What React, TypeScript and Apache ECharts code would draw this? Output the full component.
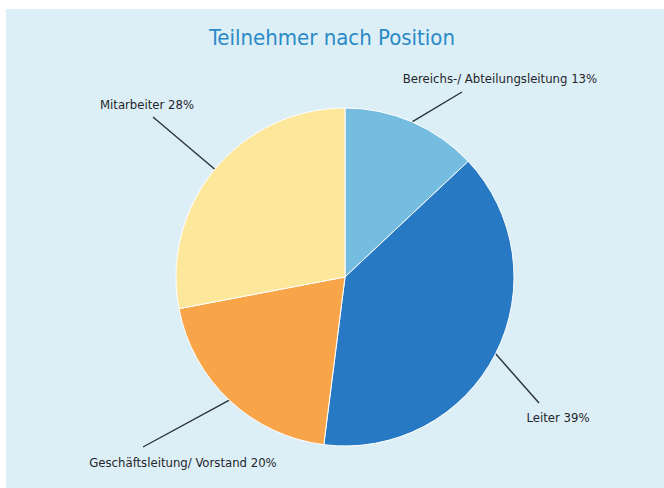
import React, { useEffect, useRef } from "react";
import * as echarts from "echarts";

const titleText = "Teilnehmer nach Position";
const categories = [
  "Bereichs-/ Abteilungsleitung",
  "Leiter",
  "Geschäftsleitung/ Vorstand",
  "Mitarbeiter",
];
const shares = [13, 39, 20, 28];
const colors = ["#74bde0", "#2779c3", "#f7a548", "#fde79b"];

// label placement (layout only): label centre and line end point
const labelCenters = [
  [500, 78],
  [558, 417],
  [183, 462],
  [147, 104],
];
const lineEnds = [
  [462, 92],
  [539, 403],
  [143, 447],
  [153, 117],
];

export default function App() {
  const ref = useRef<HTMLDivElement>(null);
  useEffect(() => {
    if (!ref.current) return;
    const chart = echarts.init(ref.current, null, { renderer: "svg" });
    chart.setOption({
      animation: false,
      backgroundColor: "#ffffff",
      graphic: [
        {
          type: "rect",
          z: -10,
          silent: true,
          shape: { x: 6, y: 9, width: 660, height: 482 },
          style: { fill: "#ddeff6" },
        },
      ],
      title: {
        text: titleText,
        left: "center",
        top: 21,
        textStyle: {
          fontFamily: "DejaVu Sans Condensed",
          fontSize: 22,
          fontWeight: "normal",
          color: "#2a8ac6",
        },
      },
      series: [
        {
          type: "pie",
          center: [345, 277],
          radius: 169,
          startAngle: 90,
          clockwise: true,
          itemStyle: { borderColor: "#ffffff", borderWidth: 1 },
          label: {
            show: true,
            formatter: "{b} {c}%",
            fontFamily: "DejaVu Sans Condensed",
            fontSize: 13,
            color: "#1f252b",
          },
          labelLine: {
            show: true,
            length: 20,
            length2: 0,
            lineStyle: { color: "#2b3238", width: 1.4 },
          },
          labelLayout: (params: any) => {
            const i = params.dataIndex;
            const p0 = params.labelLinePoints ? params.labelLinePoints[0] : lineEnds[i];
            return {
              x: labelCenters[i][0],
              y: labelCenters[i][1],
              align: "center",
              verticalAlign: "middle",
              labelLinePoints: [p0, lineEnds[i], lineEnds[i]],
            };
          },
          data: categories.map((name, i) => ({
            name,
            value: shares[i],
            itemStyle: { color: colors[i] },
          })),
        },
      ],
    });
    return () => chart.dispose();
  }, []);
  return (
    <div
      ref={ref}
      style={{ position: "fixed", left: 0, top: 0, width: 664, height: 488 }}
    />
  );
}
